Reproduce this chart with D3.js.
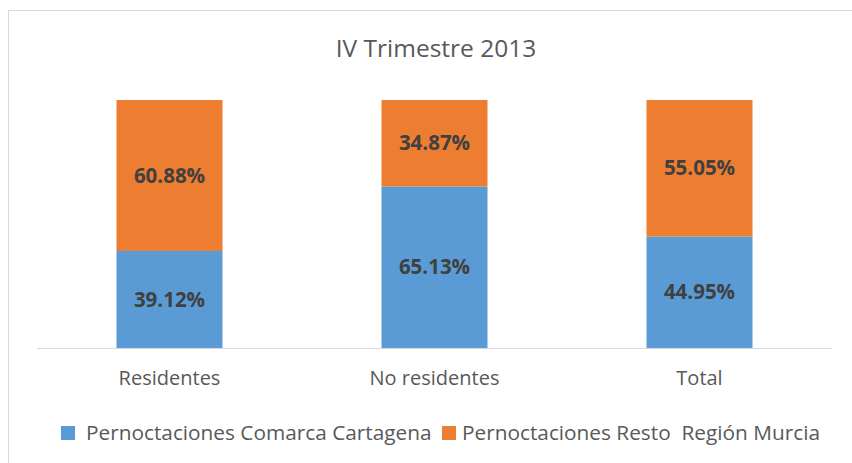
<!DOCTYPE html>
<html>
<head>
<meta charset="utf-8">
<script src="https://cdn.jsdelivr.net/npm/d3@7"></script>
<style>
  body { margin: 0; background: #fff; }
  text { font-family: "Open Sans", sans-serif; }
</style>
</head>
<body>
<svg id="chart"></svg>
<script>
var categories = ["Residentes", "No residentes", "Total"];
var comarca = [39.12, 65.13, 44.95];
var resto = [60.88, 34.87, 55.05];
var seriesNames = ["Pernoctaciones Comarca Cartagena", "Pernoctaciones Resto  Región Murcia"];
var colors = ["#5b9bd5", "#ed7d31"];

var width = 852, height = 463;
var margin = { top: 100, right: 20, bottom: 115, left: 37 };

var svg = d3.select("#chart").attr("width", width).attr("height", height);

svg.append("rect")
  .attr("x", 8.5).attr("y", 10.5)
  .attr("width", width).attr("height", height)
  .attr("fill", "#fff")
  .attr("stroke", "#d9d9d9");

var x = d3.scaleBand().domain(categories)
  .range([margin.left, 832]).paddingInner(0.6).paddingOuter(0.3);
var y = d3.scaleLinear().domain([0, 100]).range([348, 100]);

// stacked data
var rows = categories.map(function(c, i) {
  return { cat: c, comarca: comarca[i], resto: resto[i] };
});
var stack = d3.stack().keys(["comarca", "resto"])(rows);

svg.append("text")
  .attr("x", 436).attr("y", 57)
  .attr("text-anchor", "middle")
  .attr("font-size", 24.5)
  .attr("fill", "#595959")
  .text("IV Trimestre 2013");

var layers = svg.selectAll("g.layer").data(stack).enter().append("g")
  .attr("fill", function(d, i) { return colors[i]; });

layers.selectAll("rect").data(function(d) { return d; }).enter().append("rect")
  .attr("x", function(d) { return x(d.data.cat); })
  .attr("y", function(d) { return y(d[1]); })
  .attr("width", x.bandwidth())
  .attr("height", function(d) { return y(d[0]) - y(d[1]); });

layers.selectAll("text").data(function(d) { return d; }).enter().append("text")
  .attr("x", function(d) { return x(d.data.cat) + x.bandwidth() / 2; })
  .attr("y", function(d) { return (y(d[0]) + y(d[1])) / 2; })
  .attr("dy", "0.35em")
  .attr("text-anchor", "middle")
  .attr("font-size", 20.5)
  .attr("font-weight", "bold")
  .attr("fill", "#404040")
  .text(function(d) { return (d[1] - d[0]).toFixed(2) + "%"; });

var xAxis = svg.append("g")
  .attr("transform", "translate(0,348)")
  .call(d3.axisBottom(x).tickSize(0).tickPadding(23));
xAxis.select(".domain").attr("stroke", "#d9d9d9").attr("d", "M37,0.5H832");
xAxis.selectAll("text")
  .attr("font-size", 20)
  .attr("font-family", "'Open Sans', sans-serif")
  .attr("fill", "#595959");

// legend
var legendX = [61, 442];
var legendTextX = [25, 20];
var legend = svg.selectAll("g.legend").data(seriesNames).enter().append("g")
  .attr("transform", function(d, i) { return "translate(" + legendX[i] + ",426)"; });
legend.append("rect")
  .attr("width", 14).attr("height", 14)
  .attr("fill", function(d, i) { return colors[i]; });
legend.append("text")
  .attr("x", function(d, i) { return legendTextX[i]; })
  .attr("y", 7).attr("dy", "0.35em")
  .attr("font-size", 20.8)
  .attr("fill", "#595959")
  .attr("xml:space", "preserve")
  .style("white-space", "pre")
  .text(function(d) { return d; });
</script>
</body>
</html>
